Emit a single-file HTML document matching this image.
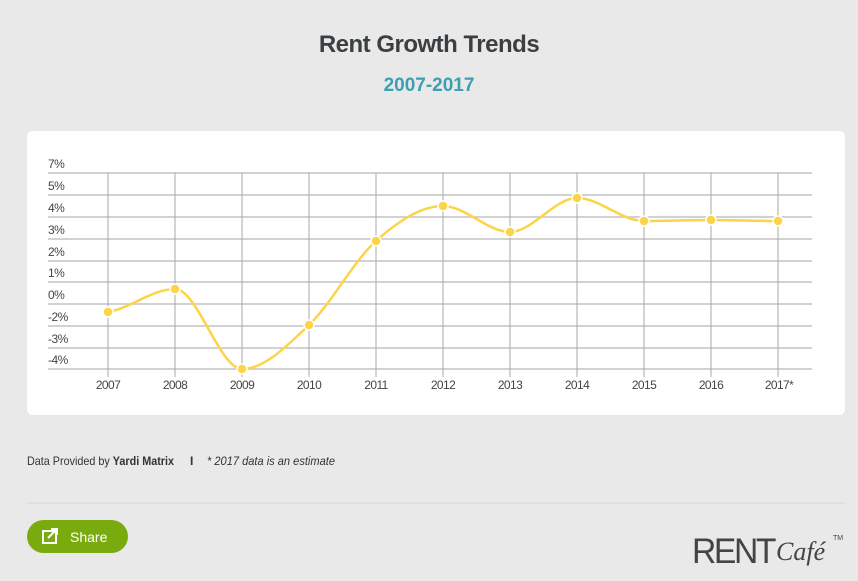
<!DOCTYPE html>
<html><head><style>
body{margin:0;width:858px;height:581px;background:#e8e9e8;font-family:"Liberation Sans",sans-serif;position:relative;overflow:hidden}
.t{position:absolute;left:0;width:858px;text-align:center;font-weight:bold}
</style></head><body>
<div class="t" style="top:31px;font-size:24px;color:#3b3f42;letter-spacing:-0.5px">Rent Growth Trends</div>
<div class="t" style="top:75px;font-size:19px;color:#3ba0b2">2007-2017</div>
<div style="position:absolute;left:27px;top:131px;width:818px;height:284px;background:#fff;border-radius:6px"></div>
<svg style="position:absolute;left:0;top:0" width="858" height="581">
<g stroke="#c4c4c4" stroke-width="1.5">
<line x1="48" x2="812" y1="173" y2="173"/><line x1="48" x2="812" y1="195" y2="195"/><line x1="48" x2="812" y1="217" y2="217"/><line x1="48" x2="812" y1="239" y2="239"/><line x1="48" x2="812" y1="261" y2="261"/><line x1="48" x2="812" y1="282" y2="282"/><line x1="48" x2="812" y1="304" y2="304"/><line x1="48" x2="812" y1="326" y2="326"/><line x1="48" x2="812" y1="348" y2="348"/><line x1="48" x2="812" y1="369" y2="369"/>
</g>
<g stroke="#aaa" stroke-width="1">
<line x1="108" x2="108" y1="173" y2="377"/><line x1="175" x2="175" y1="173" y2="377"/><line x1="242" x2="242" y1="173" y2="377"/><line x1="309" x2="309" y1="173" y2="377"/><line x1="376" x2="376" y1="173" y2="377"/><line x1="443" x2="443" y1="173" y2="377"/><line x1="510" x2="510" y1="173" y2="377"/><line x1="577" x2="577" y1="173" y2="377"/><line x1="644" x2="644" y1="173" y2="377"/><line x1="711" x2="711" y1="173" y2="377"/><line x1="778" x2="778" y1="173" y2="377"/>
</g>
<g font-size="12" fill="#444" letter-spacing="-0.5">
<text x="48" y="168">7%</text><text x="48" y="190">5%</text><text x="48" y="212">4%</text><text x="48" y="234">3%</text><text x="48" y="256">2%</text><text x="48" y="277">1%</text><text x="48" y="299">0%</text><text x="48" y="321">-2%</text><text x="48" y="343">-3%</text><text x="48" y="364">-4%</text>
</g>
<g font-size="12" fill="#444" text-anchor="middle" letter-spacing="-0.6">
<text x="108" y="389">2007</text><text x="175" y="389">2008</text><text x="242" y="389">2009</text><text x="309" y="389">2010</text><text x="376" y="389">2011</text><text x="443" y="389">2012</text><text x="510" y="389">2013</text><text x="577" y="389">2014</text><text x="644" y="389">2015</text><text x="711" y="389">2016</text><text x="779" y="389">2017*</text>
</g>
<path fill="none" stroke="#fcd447" stroke-width="2.5" d="M108,312 C130.3,308.2 152.7,289 175,289 C197.3,289 219.7,369 242,369 C264.3,369 286.7,346.3 309,325 C331.3,303.7 353.7,260.8 376,241 C398.3,221.2 420.7,206 443,206 C465.3,206 487.7,232 510,232 C532.3,232 554.7,198 577,198 C599.3,198 621.7,221 644,221 C666.3,221 688.7,220 711,220 C733.3,220 755.7,221 778,221"/>
<g fill="#fcd447" stroke="#fff" stroke-width="1.5">
<circle cx="108" cy="312" r="5"/><circle cx="175" cy="289" r="5"/><circle cx="242" cy="369" r="5"/><circle cx="309" cy="325" r="5"/><circle cx="376" cy="241" r="5"/><circle cx="443" cy="206" r="5"/><circle cx="510" cy="232" r="5"/><circle cx="577" cy="198" r="5"/><circle cx="644" cy="221" r="5"/><circle cx="711" cy="220" r="5"/><circle cx="778" cy="221" r="5"/>
</g>
<text x="27" y="465" font-size="12" fill="#333" textLength="147" lengthAdjust="spacingAndGlyphs">Data Provided by <tspan font-weight="bold">Yardi Matrix</tspan></text>
<text x="190" y="465" font-size="12" fill="#333" font-weight="bold">I</text>
<text x="207" y="465" font-size="12" fill="#333" font-style="italic" textLength="128" lengthAdjust="spacingAndGlyphs">* 2017 data is an estimate</text>
<line x1="27" x2="845" y1="503" y2="503" stroke="#d6d7d6"/>
<rect x="27" y="520" width="101" height="33" rx="16.5" fill="#7aab0e"/>
<rect x="43" y="531" width="13" height="12" fill="none" stroke="#fff" stroke-width="2"/>
<path d="M48,538 L55,531 M51,529 L57,529 L57,535" stroke="#fff" stroke-width="2" fill="none"/>
<text x="70" y="542" font-size="14" fill="#fff">Share</text>
<text x="692" y="563" font-size="35" fill="#444" letter-spacing="-2.5" textLength="82" lengthAdjust="spacingAndGlyphs">RENT</text>
<text x="776" y="560" font-size="26" fill="#444" font-style="italic" font-family="Liberation Serif,serif">Café</text>
<text x="833" y="540" font-size="7" fill="#444">TM</text>
</svg>
</body></html>
